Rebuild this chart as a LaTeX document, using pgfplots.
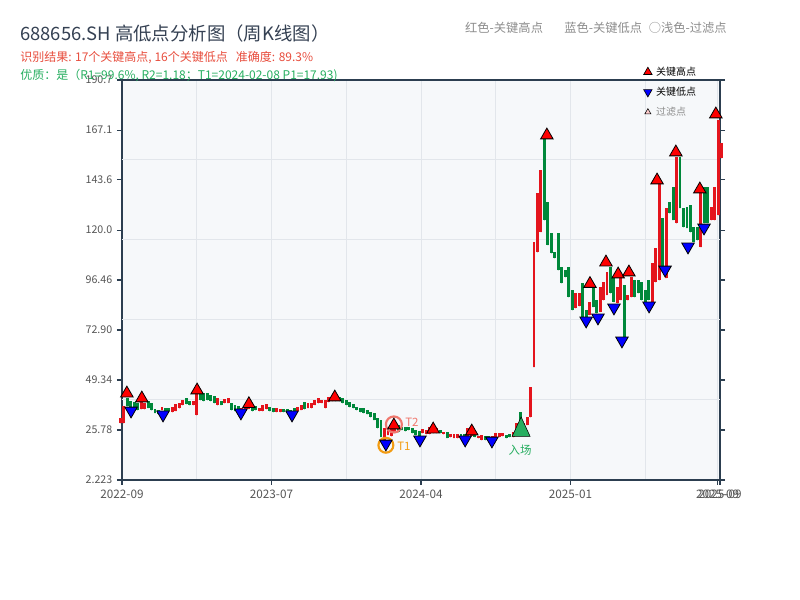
\documentclass[border=0pt]{standalone}
\usepackage{pgfplots}
\usepackage{pgfplotstable}
\pgfplotsset{compat=1.18}
\usepackage{fontspec}
\setmainfont{Noto Sans CJK SC}

\definecolor{upred}{RGB}{228,20,28}
\definecolor{downgreen}{RGB}{0,136,58}
\definecolor{axisdark}{RGB}{44,62,80}
\definecolor{gridc}{RGB}{226,230,235}
\definecolor{plotbg}{RGB}{246,248,250}
\definecolor{titlec}{RGB}{52,64,82}
\definecolor{subred}{RGB}{231,76,60}
\definecolor{subgreen}{RGB}{39,174,96}
\definecolor{hintgray}{RGB}{140,140,140}
\definecolor{ticklab}{RGB}{85,85,85}
\definecolor{tone}{RGB}{243,156,18}
\definecolor{ttwo}{RGB}{240,120,110}

% weekly candles, red = up
\pgfplotstableread{
i lo hi
0 29.08 31.44
1 29.08 37.09
6 35.68 38.98
7 35.68 38.51
12 35.21 36.62
15 34.27 36.62
16 34.74 38.04
17 36.15 38.51
18 37.57 39.92
21 37.57 39.45
22 32.85 42.75
28 37.57 40.86
30 38.51 40.39
31 38.51 40.86
35 33.80 36.15
36 34.74 37.09
37 35.68 37.57
40 34.74 36.15
41 34.74 37.57
42 35.68 38.04
45 34.27 36.15
46 34.27 35.68
51 34.74 36.62
52 35.21 37.57
54 36.15 38.51
55 36.15 38.51
56 37.57 39.92
57 38.51 40.86
58 38.51 39.92
59 36.15 39.92
60 38.98 41.33
61 39.45 41.81
76 20.60 26.73
77 23.43 26.73
78 22.96 27.20
79 24.37 27.67
87 24.37 26.26
88 23.90 25.79
89 23.90 27.20
90 24.37 26.73
91 24.37 26.73
93 23.90 24.84
95 22.49 23.90
96 22.02 23.90
97 22.02 23.90
100 22.96 26.73
101 22.96 25.79
103 22.02 22.96
104 21.07 23.43
107 21.54 22.96
108 22.49 24.37
109 22.49 24.37
110 22.96 24.37
113 22.49 24.84
114 24.37 29.08
116 25.79 29.08
117 28.14 31.91
118 31.91 46.05
119 55.47 114.37
120 109.66 137.47
121 119.09 148.30
131 83.27 90.34
132 84.22 90.34
135 79.98 86.10
138 81.39 93.17
139 87.04 95.52
140 89.40 100.23
143 85.63 93.17
144 87.04 97.41
146 87.04 89.40
147 88.46 97.88
153 85.63 104.48
154 95.52 111.55
155 96.47 141.70
157 97.41 130.40
160 123.33 154.43
167 112.02 137.47
170 124.74 130.87
171 124.74 140.29
172 127.10 171.87
173 153.96 161.03
}\redk

% green = down
\pgfplotstableread{
i lo hi
2 37.09 40.86
3 36.15 39.45
4 35.21 38.98
5 35.21 38.51
8 36.15 39.45
9 35.21 38.51
10 33.80 35.68
11 33.32 35.21
13 34.27 36.15
14 34.74 36.15
19 38.04 40.86
20 37.57 39.45
23 39.92 43.69
24 39.45 43.22
25 39.92 43.22
26 39.45 42.28
27 38.51 41.81
29 37.57 39.45
32 35.21 38.51
33 34.74 37.57
34 33.80 37.09
38 34.74 37.09
39 35.21 37.09
43 34.74 36.62
44 34.27 36.15
47 34.27 35.68
48 33.80 35.68
49 33.32 35.21
50 34.27 36.15
53 35.68 38.98
62 39.45 41.33
63 39.45 41.33
64 38.51 40.86
65 37.57 39.92
66 36.62 38.98
67 36.15 38.04
68 35.21 36.62
69 34.27 36.15
70 33.80 36.15
71 33.32 35.21
72 31.91 34.27
73 30.50 33.80
74 26.73 31.44
75 22.49 30.50
80 24.84 28.14
81 25.79 27.20
82 25.31 27.20
83 25.79 27.20
84 24.37 26.73
85 23.43 25.79
86 22.96 25.31
92 24.37 25.79
94 22.02 24.84
98 22.49 23.90
99 22.02 23.90
102 22.49 23.43
105 21.07 22.96
106 21.07 22.96
111 22.02 23.43
112 22.49 23.90
115 27.20 34.27
122 124.74 163.38
123 112.96 133.22
124 109.19 118.62
125 106.83 109.66
126 101.17 118.62
127 95.05 102.59
128 97.88 101.17
129 88.46 102.59
130 82.33 91.76
133 79.03 95.05
134 79.03 82.33
136 83.74 92.70
137 80.92 87.04
141 90.34 102.59
142 86.10 97.88
145 69.61 94.11
148 88.46 96.47
149 90.34 96.47
150 87.04 95.52
151 86.10 91.76
152 87.04 96.47
156 102.59 125.68
158 128.04 133.22
159 124.74 140.29
161 130.40 154.43
162 121.45 130.40
163 120.97 130.87
164 119.09 131.81
165 114.37 121.45
166 115.32 121.45
168 123.33 140.29
169 123.33 140.29
}\greenk

\pgfplotstableread{
x y
1.9 43.07
6.2 40.72
22.1 44.49
37.0 38.04
61.7 41.19
78.7 28.00
90.0 26.10
101.1 25.17
122.7 164.65
135.1 94.67
139.7 104.80
143.2 99.15
146.3 100.09
154.4 143.45
159.8 156.65
166.7 139.21
171.3 174.55
}\highs

\pgfplotstableread{
x y
3.1 34.87
12.3 33.00
34.7 33.94
49.4 33.00
76.4 19.32
86.2 21.22
99.2 21.22
106.9 20.74
134.0 77.29
137.4 78.70
142.0 83.42
144.3 67.87
152.1 84.36
156.7 101.31
163.3 112.16
167.9 121.10
}\lows

\begin{document}
\begin{tikzpicture}
\path[use as bounding box] (0,0) rectangle (600pt,450pt);
\begin{axis}[
  at={(91.5pt,90pt)}, anchor=south west,
  scale only axis, width=448.5pt, height=300pt,
  xmin=0.5, xmax=172.5, ymin=2.223, ymax=190.7,
  clip=false,
  axis background/.style={fill=plotbg},
  axis line style={axisdark, line width=1.2pt},
  tick align=outside, xtick pos=bottom, yticklabel pos=left,
  major tick length=3.75pt, minor tick length=0pt,
  tick style={axisdark, line width=0.8pt},
  xtick={0.5,43.5,86.5,129.5,171.8,172.5},
  xticklabels={2022-09,2023-07,2024-04,2025-01,2025-09,2025-09},
  minor xtick={22,65,108,151},
  xmajorgrids, xminorgrids,
  ytick={2.223,25.78,49.34,72.90,96.46,120.0,143.6,167.1,190.7},
  yticklabels={2.223,25.78,49.34,72.90,96.46,120.0,143.6,167.1,190.7},
  extra y ticks={39.92,77.62,115.32,153.02},
  extra y tick labels={},
  extra y tick style={grid=major, major tick length=0pt},
  grid style={gridc, line width=0.75pt},
  minor grid style={gridc, line width=0.75pt},
  yticklabel style={font=\fontsize{8}{9}\selectfont, text=ticklab},
  xticklabel style={font=\fontsize{8.8}{10}\selectfont, text=ticklab},
  legend image code/.code={\draw[#1] plot coordinates {(0pt,0pt)};},
  legend style={at={(0.872,1.038)}, anchor=north west, draw=none, fill=none,
    font=\fontsize{7.5}{8}\selectfont, row sep=4.5pt, column sep=2pt, inner sep=0pt,
    nodes={inner sep=1pt, text height=6.8pt, text depth=1.7pt}},
  legend cell align=left,
]
\addlegendimage{mark=triangle*, mark size=3.6pt, mark options={fill=red, draw=black, line width=0.5pt}}
\addlegendentry{关键高点}
\addlegendimage{mark=triangle*, mark size=3.6pt, mark options={fill=blue, draw=black, line width=0.5pt, rotate=180}}
\addlegendentry{关键低点}
\addlegendimage{mark=triangle*, mark size=2.6pt, mark options={fill=red!20, draw=black, line width=0.4pt}}
\addlegendentry[text=hintgray]{过滤点}

\addplot[upred, only marks, mark=*, mark size=0.01pt, mark options={draw=none, fill=none}, forget plot,
  error bars/.cd, y dir=plus, y explicit, error mark=none,
  error bar style={line width=2.2pt}]
  table[x=i, y=lo, y error expr=\thisrow{hi}-\thisrow{lo}] {\redk};
\addplot[downgreen, only marks, mark=*, mark size=0.01pt, mark options={draw=none, fill=none}, forget plot,
  error bars/.cd, y dir=plus, y explicit, error mark=none,
  error bar style={line width=2.2pt}]
  table[x=i, y=lo, y error expr=\thisrow{hi}-\thisrow{lo}] {\greenk};

% entry signal
\addplot[only marks, forget plot, mark=triangle*, mark size=7.8pt,
  mark options={fill=subgreen, draw=none, yscale=1.25}] coordinates {(115.3,25.8)};

% T1 / T2 rings
\addplot[only marks, forget plot, mark=o, mark size=5.6pt,
  mark options={draw=tone, line width=1.6pt}] coordinates {(76.4,18.6)};
\addplot[only marks, forget plot, mark=o, mark size=6pt,
  mark options={draw=ttwo, line width=1.6pt}] coordinates {(78.7,28.4)};

\addplot[only marks, forget plot, mark=triangle*, mark size=5.4pt,
  mark options={fill=red, draw=black, line width=0.6pt}] table[x=x, y=y] {\highs};
\addplot[only marks, forget plot, mark=triangle*, mark size=5.4pt,
  mark options={fill=blue, draw=black, line width=0.6pt, rotate=180}] table[x=x, y=y] {\lows};

\node[anchor=west, inner sep=0pt, text=tone, font=\fontsize{8.6}{10}\selectfont] at (axis cs:79.6,18.2) {T1};
\node[anchor=west, inner sep=0pt, text=ttwo, font=\fontsize{8.6}{10}\selectfont] at (axis cs:81.9,29.5) {T2};
\node[inner sep=0pt, text=subgreen, font=\fontsize{8.6}{10}\selectfont] at (axis cs:115.0,16.4) {入场};
\end{axis}

\begin{scope}[x=0.75pt, y=-0.75pt, shift={(0pt,450pt)}]
\node[anchor=west, inner sep=0pt, text=titlec, font=\fontsize{13.8}{16}\selectfont] at (20,34) {688656.SH 高低点分析图（周K线图）};
\node[anchor=west, inner sep=0pt, text=subred, font=\fontsize{9}{10}\selectfont] at (20,58) {识别结果: 17个关键高点, 16个关键低点\hspace{6pt}准确度: 89.3\%};
\node[anchor=west, inner sep=0pt, text=subgreen, font=\fontsize{9}{10}\selectfont] at (20,76) {优质：是（R1=99.6\%, R2=1.18；T1=2024-02-08 P1=17.93)};
\node[anchor=east, inner sep=0pt, text=hintgray, font=\fontsize{9.2}{10}\selectfont] at (727,28) {红色-关键高点\hspace{16pt}蓝色-关键低点\hspace{5pt}○浅色-过滤点};
\end{scope}
\end{tikzpicture}
\end{document}
